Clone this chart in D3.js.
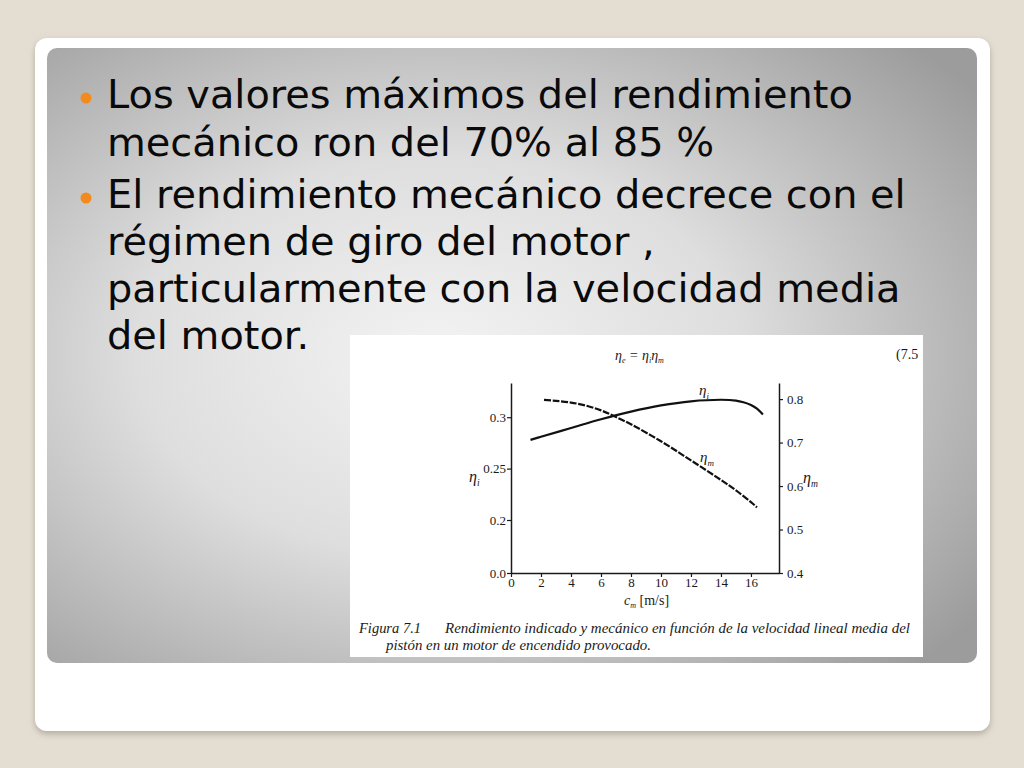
<!DOCTYPE html>
<html>
<head>
<meta charset="utf-8">
<script src="https://cdn.jsdelivr.net/npm/d3@7"></script>
<style>
  html, body { margin: 0; padding: 0; background: #e4ddd2; }
  svg { display: block; }
</style>
</head>
<body>
<div id="slide"></div>
<script>
// ===== DATA =====
const bulletLines = [
  ["Los valores máximos del rendimiento", "mecánico ron del 70% al 85 %"],
  ["El rendimiento mecánico decrece con el", "régimen de giro del motor ,",
   "particularmente con la velocidad media", "del motor."]
];

// indicated efficiency (left axis)
const cmI  = [1.3, 2, 4, 6, 8, 10, 12, 14, 15, 15.5, 16, 16.4, 16.8];
const etaI = [0.278, 0.281, 0.2895, 0.298, 0.3055, 0.3115, 0.3155, 0.317, 0.3162, 0.3146, 0.312, 0.3084, 0.3026];

// mechanical efficiency (right axis)
const cmM  = [2.2, 3, 4, 5, 6, 6.8, 8, 10, 12, 14, 15, 16, 16.4];
const etaM = [0.798, 0.796, 0.792, 0.785, 0.774, 0.762, 0.742, 0.703, 0.659, 0.614, 0.590, 0.563, 0.551];

const xTicks     = [0, 2, 4, 6, 8, 10, 12, 14, 16];
const leftTicks  = [0.0, 0.2, 0.25, 0.3];
const leftLabels = ["0.0", "0.2", "0.25", "0.3"];
const rightTicks = [0.4, 0.5, 0.6, 0.7, 0.8];

// ===== SLIDE =====
const W = 1024, H = 768;
const svg = d3.select("#slide").append("svg")
  .attr("width", W).attr("height", H);

const defs = svg.append("defs");

const grad = defs.append("radialGradient")
  .attr("id", "panelGrad")
  .attr("cx", "0.42").attr("cy", "0.5").attr("r", "0.72");
grad.append("stop").attr("offset", "0%").attr("stop-color", "#f3f3f3");
grad.append("stop").attr("offset", "45%").attr("stop-color", "#dedede");
grad.append("stop").attr("offset", "100%").attr("stop-color", "#9c9c9c");

const shadow = defs.append("filter").attr("id", "shadow")
  .attr("x", "-5%").attr("y", "-5%").attr("width", "110%").attr("height", "112%");
shadow.append("feDropShadow")
  .attr("dx", 0).attr("dy", 3).attr("stdDeviation", 3)
  .attr("flood-color", "#8a8478").attr("flood-opacity", 0.55);

svg.append("rect").attr("width", W).attr("height", H).attr("fill", "#e4ddd2");

// white card
svg.append("rect")
  .attr("x", 35).attr("y", 38).attr("width", 955).attr("height", 693)
  .attr("rx", 12).attr("fill", "#ffffff")
  .attr("filter", "url(#shadow)");

// gray panel
svg.append("rect")
  .attr("x", 47).attr("y", 48).attr("width", 930).attr("height", 615)
  .attr("rx", 10).attr("fill", "url(#panelGrad)");

// bullets + text
const textG = svg.append("g")
  .style("font-family", "'DejaVu Sans', Verdana, sans-serif")
  .style("fill", "#0a0a0a");

// fit font-size so first line spans about 746px
const probe = textG.append("text").style("font-size", "36px").text(bulletLines[0][0]);
const fs = 36 * 746 / probe.node().getComputedTextLength();
probe.remove();

const baselines = [[108, 156], [208, 255, 302, 349]];
bulletLines.forEach((lines, bi) => {
  svg.append("circle")
    .attr("cx", 86).attr("cy", baselines[bi][0] - 10)
    .attr("r", 5.5).attr("fill", "#f28a1e");
  lines.forEach((t, li) => {
    textG.append("text")
      .attr("x", 107).attr("y", baselines[bi][li])
      .style("font-size", fs + "px")
      .text(t);
  });
});

// ===== FIGURE (scanned book figure) =====
svg.append("rect")
  .attr("x", 350).attr("y", 335).attr("width", 573).attr("height", 322)
  .attr("fill", "#ffffff");

const fig = svg.append("g")
  .style("font-family", "'Liberation Serif', 'Times New Roman', serif")
  .style("fill", "#1a1a1a");

const x = d3.scaleLinear().domain([0, 17.87]).range([511, 779]);
// left axis is broken between 0.0 and 0.2
const yL = d3.scaleLinear().domain([0, 0.2, 0.3333]).range([573, 520, 383]);
const yR = d3.scaleLinear().domain([0.4, 0.837]).range([573, 383]);

const axisStyle = sel => {
  sel.select(".domain").attr("stroke", "#1a1a1a").attr("stroke-width", 1.5);
  sel.selectAll(".tick line").attr("stroke", "#1a1a1a").attr("stroke-width", 1.2);
  sel.selectAll(".tick text")
    .style("font-family", "'Liberation Serif', serif")
    .style("font-size", "13px").attr("fill", "#1a1a1a");
};

fig.append("g")
  .attr("transform", "translate(0,573)")
  .call(d3.axisBottom(x).tickValues(xTicks).tickSize(4).tickSizeOuter(0).tickFormat(d3.format("d")))
  .call(axisStyle)
  .call(g => g.selectAll(".tick text").attr("dy", "0.55em"));

fig.append("g")
  .attr("transform", "translate(511,0)")
  .call(d3.axisLeft(yL).tickValues(leftTicks).tickSize(4).tickSizeOuter(0)
    .tickFormat((d, i) => leftLabels[i]))
  .call(axisStyle)
  .call(g => g.selectAll(".tick text").attr("x", -5));

fig.append("g")
  .attr("transform", "translate(779,0)")
  .call(d3.axisRight(yR).tickValues(rightTicks).tickSize(4).tickSizeOuter(0).tickFormat(d3.format(".1f")))
  .call(axisStyle)
  .call(g => g.selectAll(".tick text").attr("x", 8));

// curves
const lineI = d3.line()
  .x((d, i) => x(cmI[i])).y(d => yL(d))
  .curve(d3.curveCatmullRom.alpha(0.5));
const lineM = d3.line()
  .x((d, i) => x(cmM[i])).y(d => yR(d))
  .curve(d3.curveCatmullRom.alpha(0.5));

fig.append("path").datum(etaI)
  .attr("d", lineI).attr("fill", "none")
  .attr("stroke", "#111").attr("stroke-width", 2.2);

fig.append("path").datum(etaM)
  .attr("d", lineM).attr("fill", "none")
  .attr("stroke", "#111").attr("stroke-width", 2.2)
  .attr("stroke-dasharray", "7,1.6");

// η with subscript helper
function eta(g, px, py, sub, size) {
  const t = g.append("text").attr("x", px).attr("y", py)
    .style("font-size", size + "px").style("font-style", "italic");
  t.append("tspan").text("η");
  t.append("tspan").attr("dy", size * 0.28).style("font-size", (size * 0.6) + "px").text(sub);
  return t;
}

eta(fig, 699, 395, "i", 15);
eta(fig, 700, 462, "m", 15);
eta(fig, 469, 482, "i", 16);
eta(fig, 803, 483, "m", 16);

// formula and equation number
const f = fig.append("text").attr("x", 615).attr("y", 360)
  .style("font-size", "14px").style("font-style", "italic");
f.append("tspan").text("η");
f.append("tspan").attr("dy", 3).style("font-size", "8px").text("e");
f.append("tspan").attr("dy", -3).text(" = η");
f.append("tspan").attr("dy", 3).style("font-size", "8px").text("i");
f.append("tspan").attr("dy", -3).text("η");
f.append("tspan").attr("dy", 3).style("font-size", "8px").text("m");

fig.append("text").attr("x", 896).attr("y", 359)
  .style("font-size", "14px").text("(7.5");

// x-axis title
const xt = fig.append("text").attr("x", 624).attr("y", 605).style("font-size", "14px");
xt.append("tspan").style("font-style", "italic").text("c");
xt.append("tspan").attr("dy", 3).style("font-size", "8px").style("font-style", "italic").text("m");
xt.append("tspan").attr("dy", -3).text(" [m/s]");

// caption
const capStyle = t => t.style("font-size", "14px").style("font-style", "italic")
  .attr("lengthAdjust", "spacingAndGlyphs");
fig.append("text").attr("x", 359).attr("y", 633)
  .call(capStyle).attr("textLength", 62)
  .text("Figura 7.1");
fig.append("text").attr("x", 445).attr("y", 633)
  .call(capStyle).attr("textLength", 465)
  .text("Rendimiento indicado y mecánico en función de la velocidad lineal media del");
fig.append("text").attr("x", 386).attr("y", 650)
  .call(capStyle).attr("textLength", 265)
  .text("pistón en un motor de encendido provocado.");
</script>
</body>
</html>
